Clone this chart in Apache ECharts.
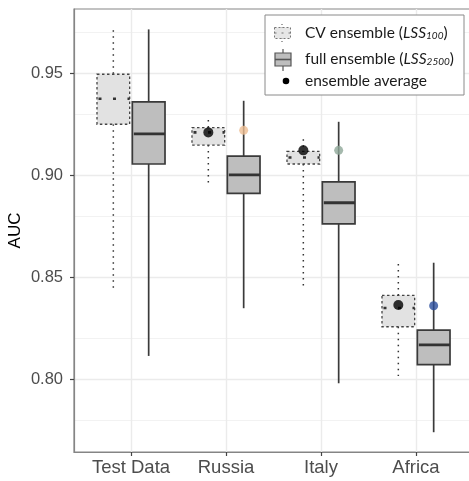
<!DOCTYPE html>
<html>
<head>
<meta charset="utf-8">
<script src="https://cdn.jsdelivr.net/npm/echarts@6/dist/echarts.min.js"></script>
<style>html,body{margin:0;padding:0;background:#fff}#c{width:469px;height:481px}</style>
</head>
<body>
<div id="c"></div>
<script>
// ---- data ----
const categories = ['Test Data', 'Russia', 'Italy', 'Africa'];
// CV ensemble (LSS100) box stats
const cvLow  = [0.8443, 0.8962, 0.8456, 0.8015];
const cvQ1   = [0.9249, 0.9147, 0.9054, 0.8256];
const cvMed  = [0.9374, 0.9209, 0.9086, 0.8348];
const cvQ3   = [0.9494, 0.9232, 0.9116, 0.8410];
const cvHigh = [0.9710, 0.9270, 0.9176, 0.8564];
// full ensemble (LSS2500) box stats
const fullLow  = [0.8113, 0.8347, 0.7979, 0.7739];
const fullQ1   = [0.9054, 0.8910, 0.8760, 0.8070];
const fullMed  = [0.9202, 0.9001, 0.8864, 0.8167];
const fullQ3   = [0.9359, 0.9093, 0.8966, 0.8240];
const fullHigh = [0.9714, 0.9364, 0.9261, 0.8570];
// ensemble averages
const cvMean   = [null, 0.9209, 0.9121, 0.8363];
const fullMean = [null, 0.9219, 0.9121, 0.8359];
const meanColors = ['#000000', '#EDBE93', '#8FA898', '#2A4E9C'];
// axis ticks
const yTicks = [0.80, 0.85, 0.90, 0.95];
const yMinor = [0.775, 0.825, 0.875, 0.925, 0.975];

const OFF = 0.186, BW = 0.344;

const boxData = [];
categories.forEach((c, i) => {
  boxData.push([i - OFF, cvLow[i], cvQ1[i], cvMed[i], cvQ3[i], cvHigh[i], 0]);
  boxData.push([i + OFF, fullLow[i], fullQ1[i], fullMed[i], fullQ3[i], fullHigh[i], 1]);
});
const cvMeanPts = [], fullMeanPts = [];
categories.forEach((c, i) => {
  if (cvMean[i] != null) cvMeanPts.push([i - OFF, cvMean[i]]);
  if (fullMean[i] != null) fullMeanPts.push({value: [i + OFF, fullMean[i]], itemStyle: {color: meanColors[i]}});
});

function renderBox(params, api) {
  const x = api.value(0), kind = api.value(6);
  const lo = api.coord([x, api.value(1)]), q1 = api.coord([x, api.value(2)]),
        md = api.coord([x, api.value(3)]), q3 = api.coord([x, api.value(4)]),
        hi = api.coord([x, api.value(5)]);
  const hw = api.size([BW, 0])[0] / 2;
  const xc = lo[0];
  const cv = kind === 0;
  const whisk = cv ? {stroke: '#333', lineWidth: 1.5, lineDash: [1.5, 4.5]} : {stroke: '#3a3a3a', lineWidth: 1.7};
  return {
    type: 'group',
    children: [
      {type: 'line', shape: {x1: xc, y1: hi[1], x2: xc, y2: q3[1]}, style: whisk},
      {type: 'line', shape: {x1: xc, y1: q1[1], x2: xc, y2: lo[1]}, style: whisk},
      {type: 'rect', shape: {x: xc - hw, y: q3[1], width: hw * 2, height: q1[1] - q3[1]},
       style: cv ? {fill: '#e2e2e2', stroke: '#444', lineWidth: 1.3, lineDash: [2.5, 2.5]}
                 : {fill: '#bebebe', stroke: '#3a3a3a', lineWidth: 1.7}},
      {type: 'line', shape: {x1: xc - hw + 1.5, y1: md[1], x2: xc + hw, y2: md[1]},
       style: cv ? {stroke: '#333', lineWidth: 2.6, lineDash: [3, 11.5]} : {stroke: '#333', lineWidth: 2.8}}
    ]
  };
}

const gridLines = [];
yTicks.forEach(v => gridLines.push({yAxis: v, lineStyle: {color: '#ebebeb', width: 1.4, type: 'solid'}}));
yMinor.forEach(v => gridLines.push({yAxis: v, lineStyle: {color: '#f2f2f2', width: 1, type: 'solid'}}));
categories.forEach((c, i) => gridLines.push({xAxis: i, lineStyle: {color: '#ebebeb', width: 1.4, type: 'solid'}}));

const FONT = 'Liberation Sans, Arial, sans-serif';
const AXLINE = {show: true, onZero: false, lineStyle: {color: '#858585', width: 1.2}};
const chart = echarts.init(document.getElementById('c'), null, {renderer: 'canvas'});
chart.setOption({
  animation: false,
  backgroundColor: '#fff',
  grid: {left: 74, top: 9, width: 396, height: 443, outerBoundsMode: 'none', containLabel: false,
         show: true, borderColor: '#858585', borderWidth: 1.2, backgroundColor: 'transparent'},
  xAxis: {
    type: 'value', min: -0.6, max: -0.6 + 396 / 95, position: 'bottom',
    splitLine: {show: false}, axisLine: AXLINE,
    axisTick: {show: true, customValues: [0, 1, 2, 3], length: 4, lineStyle: {color: '#444', width: 1.2}},
    axisLabel: {customValues: [0, 1, 2, 3], formatter: v => categories[Math.round(v)], fontSize: 18.5, color: '#4d4d4d', margin: 6, fontFamily: FONT}
  },
  yAxis: {
    type: 'value', min: 0.7642, max: 0.9814, position: 'left',
    name: 'AUC', nameLocation: 'middle', nameRotate: 90, nameGap: 50, nameMoveOverlap: false,
    nameTextStyle: {fontSize: 17, color: '#000', fontFamily: FONT},
    splitLine: {show: false}, axisLine: AXLINE,
    axisTick: {show: true, inside: false, customValues: yTicks, length: 4, lineStyle: {color: '#444', width: 1.2}},
    axisLabel: {customValues: yTicks, formatter: v => v.toFixed(2), fontSize: 16.5, color: '#4d4d4d', margin: 11, fontFamily: FONT}
  },
  series: [
    {type: 'scatter', data: [], z: 0, silent: true,
     markLine: {silent: true, z: 0, symbol: 'none', label: {show: false}, animation: false, data: gridLines}},
    {type: 'custom', renderItem: renderBox, data: boxData, z: 2, encode: {x: 0, y: [1, 5]}},
    {type: 'scatter', data: cvMeanPts, symbolSize: 10, itemStyle: {color: '#000'}, z: 3},
    {type: 'scatter', data: fullMeanPts, symbolSize: 9, z: 3}
  ],
  graphic: [
    {type: 'rect', shape: {x: 265, y: 15, width: 199, height: 80}, style: {fill: '#fff', stroke: '#8a8a8a', lineWidth: 1}, z: 10},
    // CV icon
    {type: 'line', shape: {x1: 282, y1: 24, x2: 282, y2: 28}, style: {stroke: '#666', lineWidth: 1.2, lineDash: [1, 2]}, z: 11},
    {type: 'line', shape: {x1: 282, y1: 38, x2: 282, y2: 42}, style: {stroke: '#666', lineWidth: 1.2, lineDash: [1, 2]}, z: 11},
    {type: 'rect', shape: {x: 274.5, y: 27.5, width: 16, height: 11}, style: {fill: '#e6e6e6', stroke: '#777', lineWidth: 1, lineDash: [2, 2]}, z: 11},
    {type: 'line', shape: {x1: 274.5, y1: 33, x2: 290.5, y2: 33}, style: {stroke: '#777', lineWidth: 1.2, lineDash: [2, 5]}, z: 11},
    // full icon
    {type: 'line', shape: {x1: 283, y1: 49, x2: 283, y2: 71}, style: {stroke: '#555', lineWidth: 1.2}, z: 11},
    {type: 'rect', shape: {x: 275, y: 53, width: 16, height: 13}, style: {fill: '#bebebe', stroke: '#555', lineWidth: 1.2}, z: 12},
    {type: 'line', shape: {x1: 275, y1: 59.5, x2: 291, y2: 59.5}, style: {stroke: '#555', lineWidth: 1.6}, z: 13},
    // dot
    {type: 'circle', shape: {cx: 286, cy: 81, r: 3.3}, style: {fill: '#000'}, z: 11},
    // texts
    {type: 'text', x: 305, y: 32, z: 11, style: {
      text: '{n|CV ensemble (}{i|LSS}{s|100}{n|)}', verticalAlign: 'middle',
      rich: {
        n: {fontSize: 15.5, fontFamily: 'Lato, sans-serif', fill: '#1a1a1a', lineHeight: 18, verticalAlign: 'bottom'},
        i: {fontSize: 15.5, fontFamily: 'Lato, sans-serif', fontStyle: 'italic', fill: '#1a1a1a', lineHeight: 18, verticalAlign: 'bottom'},
        s: {fontSize: 10, fontFamily: 'Lato, sans-serif', fontStyle: 'italic', fill: '#1a1a1a', lineHeight: 10, verticalAlign: 'bottom'}
      }}},
    {type: 'text', x: 305, y: 58, z: 11, style: {
      text: '{n|full ensemble (}{i|LSS}{s|2500}{n|)}', verticalAlign: 'middle',
      rich: {
        n: {fontSize: 15.5, fontFamily: 'Lato, sans-serif', fill: '#1a1a1a', lineHeight: 18, verticalAlign: 'bottom'},
        i: {fontSize: 15.5, fontFamily: 'Lato, sans-serif', fontStyle: 'italic', fill: '#1a1a1a', lineHeight: 18, verticalAlign: 'bottom'},
        s: {fontSize: 10, fontFamily: 'Lato, sans-serif', fontStyle: 'italic', fill: '#1a1a1a', lineHeight: 10, verticalAlign: 'bottom'}
      }}},
    {type: 'text', x: 305, y: 81, z: 11, style: {text: 'ensemble average', fontSize: 15.5, fontFamily: 'Lato, sans-serif', fill: '#1a1a1a', verticalAlign: 'middle'}}
  ]
});
</script>
</body>
</html>
